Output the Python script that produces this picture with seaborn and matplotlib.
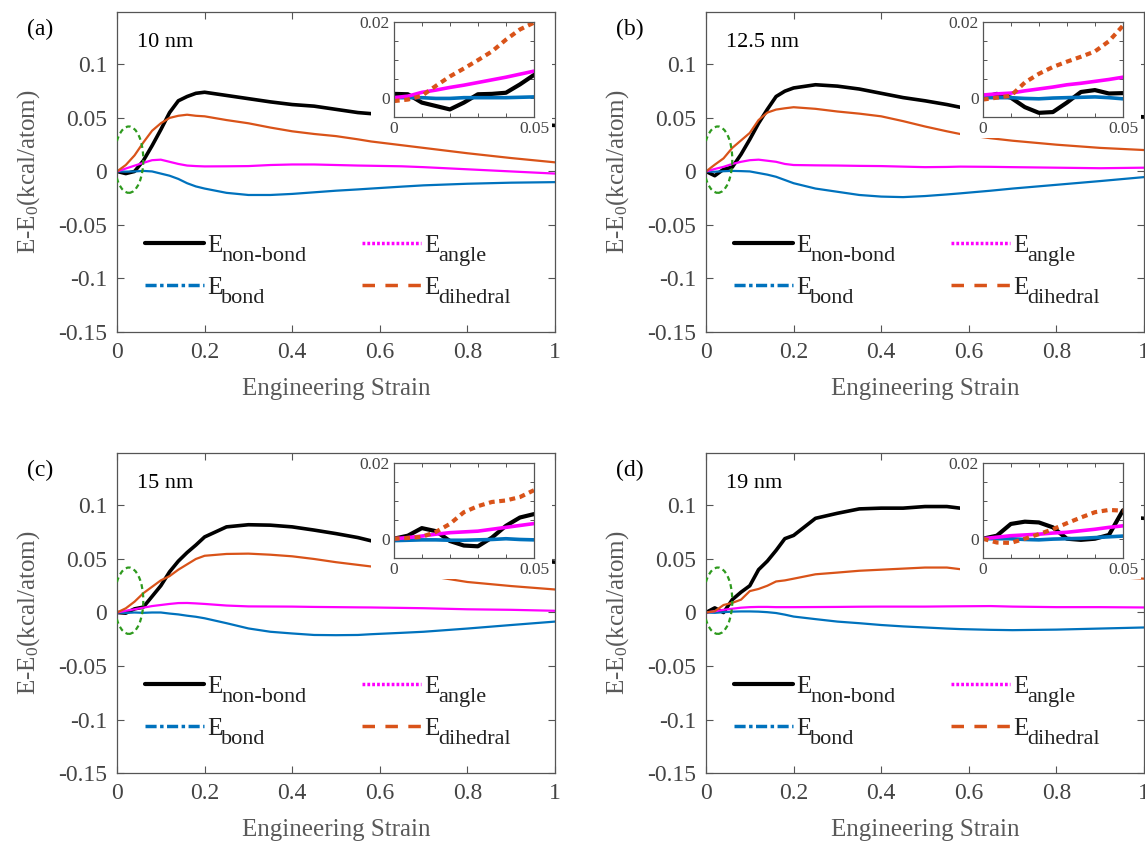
import matplotlib
matplotlib.use("Agg")
import matplotlib.pyplot as plt
import numpy as np
import pandas as pd
import seaborn as sns
from matplotlib.patches import Ellipse, Rectangle
from matplotlib.lines import Line2D

# ---------------- data ----------------
STRAIN = [0, 0.02, 0.04, 0.06, 0.08, 0.10, 0.12, 0.14, 0.16, 0.18, 0.20, 0.25,
          0.30, 0.35, 0.40, 0.45, 0.50, 0.55, 0.58, 0.65, 0.70, 0.80, 0.90, 1.00]

# (a) 10 nm
A_NONBOND = [0, -0.002, 0.0, 0.010, 0.024, 0.039, 0.055, 0.066, 0.070, 0.073, 0.074, 0.071,
             0.068, 0.065, 0.0625, 0.061, 0.058, 0.055, 0.054, 0.052, 0.050, 0.047, 0.045, 0.043]
A_BOND = [0, -0.0002, 0.0, 0.0005, 0.0, -0.002, -0.004, -0.007, -0.011, -0.014, -0.016, -0.020,
          -0.022, -0.022, -0.021, -0.0195, -0.018, -0.0168, -0.016, -0.0142, -0.013, -0.0115, -0.0105, -0.010]
A_ANGLE = [0, 0.0027, 0.0054, 0.008, 0.0105, 0.011, 0.009, 0.007, 0.0055, 0.005, 0.0047, 0.0048,
           0.005, 0.006, 0.0065, 0.0065, 0.006, 0.0055, 0.0053, 0.0048, 0.004, 0.002, 0.0, -0.002]
A_DIHEDRAL = [0, 0.006, 0.015, 0.027, 0.038, 0.045, 0.050, 0.052, 0.053, 0.052, 0.0515, 0.048,
              0.045, 0.041, 0.0375, 0.035, 0.033, 0.030, 0.028, 0.0245, 0.022, 0.017, 0.0125, 0.0085]

# (b) 12.5 nm
B_NONBOND = [0, -0.004, 0.002, 0.004, 0.016, 0.030, 0.045, 0.058, 0.070, 0.075, 0.078, 0.081,
             0.0797, 0.077, 0.073, 0.069, 0.066, 0.0625, 0.060, 0.058, 0.057, 0.055, 0.053, 0.051]
B_BOND = [0, -0.0003, 0.0002, 0.0005, 0.0003, 0.0, -0.0015, -0.003, -0.005, -0.008, -0.011, -0.016,
          -0.019, -0.022, -0.0235, -0.024, -0.023, -0.0215, -0.0205, -0.018, -0.016, -0.0125, -0.009, -0.0053]
B_ANGLE = [0, 0.0023, 0.0043, 0.007, 0.009, 0.0105, 0.011, 0.010, 0.009, 0.007, 0.006, 0.0057,
           0.0055, 0.0052, 0.005, 0.0045, 0.004, 0.0042, 0.0045, 0.0043, 0.004, 0.0035, 0.003, 0.0035]
B_DIHEDRAL = [0, 0.0063, 0.0122, 0.022, 0.029, 0.036, 0.048, 0.055, 0.0578, 0.059, 0.060, 0.0585,
              0.056, 0.054, 0.0515, 0.047, 0.042, 0.0375, 0.035, 0.031, 0.0287, 0.025, 0.022, 0.020]

# (c) 15 nm
C_NONBOND = [0, -0.0006, 0.0034, 0.005, 0.015, 0.025, 0.038, 0.048, 0.056, 0.063, 0.0706, 0.080,
             0.082, 0.0816, 0.080, 0.077, 0.0737, 0.070, 0.067, 0.063, 0.060, 0.055, 0.051, 0.047]
C_BOND = [0, -0.0004, 0.0, -0.0003, 0.0, 0.0, -0.001, -0.0018, -0.003, -0.004, -0.0054, -0.010,
          -0.0149, -0.018, -0.0196, -0.021, -0.0212, -0.021, -0.0203, -0.019, -0.018, -0.015, -0.0117, -0.0085]
C_ANGLE = [0, 0.0016, 0.003, 0.0045, 0.006, 0.007, 0.008, 0.0088, 0.0089, 0.0085, 0.008, 0.0065,
           0.0057, 0.0056, 0.0055, 0.0052, 0.005, 0.0048, 0.0047, 0.0043, 0.004, 0.003, 0.0025, 0.0016]
C_DIHEDRAL = [0, 0.0039, 0.0101, 0.018, 0.024, 0.030, 0.034, 0.040, 0.045, 0.050, 0.053, 0.0547,
              0.055, 0.054, 0.0525, 0.050, 0.047, 0.0445, 0.043, 0.039, 0.035, 0.0285, 0.0247, 0.0215]

# (d) 19 nm
D_NONBOND = [0, 0.0043, 0.0, 0.012, 0.019, 0.025, 0.040, 0.048, 0.058, 0.069, 0.072, 0.088,
             0.0927, 0.0968, 0.0975, 0.0975, 0.099, 0.099, 0.0975, 0.096, 0.095, 0.093, 0.091, 0.088]
D_BOND = [0, -0.0003, 0.0003, 0.0008, 0.001, 0.001, 0.0008, 0.0003, -0.0005, -0.002, -0.0038, -0.0062,
          -0.0085, -0.010, -0.0117, -0.013, -0.014, -0.015, -0.0155, -0.0162, -0.0165, -0.016, -0.015, -0.014]
D_ANGLE = [0, 0.0012, 0.0025, 0.0035, 0.0045, 0.005, 0.0052, 0.0052, 0.005, 0.005, 0.005, 0.0051,
           0.0052, 0.0054, 0.0055, 0.0055, 0.0055, 0.0057, 0.0058, 0.006, 0.0055, 0.005, 0.005, 0.0047]
D_DIHEDRAL = [0, 0.0012, 0.007, 0.009, 0.012, 0.020, 0.022, 0.025, 0.029, 0.030, 0.0316, 0.0357,
              0.0373, 0.039, 0.040, 0.041, 0.042, 0.042, 0.0405, 0.039, 0.038, 0.036, 0.034, 0.0316]

# insets: strain 0 .. 0.05
INSET_STRAIN = [0, 0.005, 0.01, 0.015, 0.02, 0.025, 0.03, 0.035, 0.04, 0.045, 0.05]

AI_NONBOND = [0.001, 0.0009, -0.0013, -0.0022, -0.0031, -0.0013, 0.0009, 0.001, 0.0013, 0.0035, 0.006]
AI_BOND = [0.0, 0.0, 0.0, -0.0002, -0.0002, 0.0, 0.0, 0.0, 0.0, 0.0001, 0.0002]
AI_ANGLE = [0.0, 0.0004, 0.0014, 0.002, 0.0027, 0.0033, 0.004, 0.0047, 0.0054, 0.0062, 0.007]
AI_DIHEDRAL = [-0.0009, -0.0005, 0.0005, 0.0031, 0.0056, 0.0077, 0.0099, 0.0122, 0.0153, 0.018, 0.0198]

BI_NONBOND = [0.0, 0.001, 0.0, -0.0025, -0.004, -0.0038, -0.0013, 0.0015, 0.002, 0.0011, 0.0012]
BI_BOND = [0.0, 0.0, 0.0, -0.0002, -0.0003, -0.0001, 0.0, 0.0001, 0.0002, 0.0, -0.0003]
BI_ANGLE = [0.0007, 0.001, 0.0012, 0.0018, 0.0023, 0.0028, 0.0034, 0.0038, 0.0043, 0.0048, 0.0054]
BI_DIHEDRAL = [-0.0005, 0.0, 0.0005, 0.004, 0.0063, 0.0081, 0.0095, 0.0108, 0.0122, 0.0149, 0.019]

CI_NONBOND = [0.0, 0.0008, 0.0028, 0.002, -0.0006, -0.0018, -0.002, 0.0003, 0.0034, 0.0056, 0.0065]
CI_BOND = [-0.0005, -0.0004, -0.0003, -0.0003, -0.0004, -0.0004, -0.0003, -0.0002, 0.0, -0.0002, -0.0003]
CI_ANGLE = [0.0, 0.0003, 0.0007, 0.0012, 0.0016, 0.0018, 0.002, 0.0025, 0.003, 0.0035, 0.004]
CI_DIHEDRAL = [0.0, 0.0002, 0.0005, 0.0018, 0.0039, 0.007, 0.0086, 0.0097, 0.0101, 0.011, 0.0128]

DI_NONBOND = [0.0, 0.0008, 0.0039, 0.0045, 0.0043, 0.003, 0.0, -0.0003, 0.0, 0.001, 0.0075]
DI_BOND = [0.0, 0.0, 0.0, -0.0002, -0.0003, -0.0001, 0.0, 0.0001, 0.0003, 0.0005, 0.0007]
DI_ANGLE = [0.0, 0.0004, 0.0008, 0.001, 0.0012, 0.0015, 0.0017, 0.0021, 0.0025, 0.003, 0.0034]
DI_DIHEDRAL = [0.0, -0.001, -0.0011, 0.0, 0.0012, 0.0025, 0.0041, 0.0056, 0.007, 0.0076, 0.0074]

PANEL_TAGS = ["(a)", "(b)", "(c)", "(d)"]
SIZES = ["10 nm", "12.5 nm", "15 nm", "19 nm"]
SUBSCRIPTS = ["non-bond", "bond", "angle", "dihedral"]
X_TICKS = [0, 0.2, 0.4, 0.6, 0.8, 1]
X_TICKLABELS = ["0", "0.2", "0.4", "0.6", "0.8", "1"]
Y_TICKS = [-0.15, -0.1, -0.05, 0, 0.05, 0.1]
Y_TICKLABELS = ["-0.15", "-0.1", "-0.05", "0", "0.05", "0.1"]

MAIN = [
    [A_NONBOND, A_BOND, A_ANGLE, A_DIHEDRAL],
    [B_NONBOND, B_BOND, B_ANGLE, B_DIHEDRAL],
    [C_NONBOND, C_BOND, C_ANGLE, C_DIHEDRAL],
    [D_NONBOND, D_BOND, D_ANGLE, D_DIHEDRAL],
]
INSET = [
    [AI_NONBOND, AI_BOND, AI_ANGLE, AI_DIHEDRAL],
    [BI_NONBOND, BI_BOND, BI_ANGLE, BI_DIHEDRAL],
    [CI_NONBOND, CI_BOND, CI_ANGLE, CI_DIHEDRAL],
    [DI_NONBOND, DI_BOND, DI_ANGLE, DI_DIHEDRAL],
]

# ---------------- style ----------------
sns.set_theme(style="ticks")
plt.rcParams["font.family"] = ["Liberation Serif", "DejaVu Serif"]
plt.rcParams["mathtext.fontset"] = "custom"
plt.rcParams["mathtext.rm"] = "Liberation Serif"
plt.rcParams["mathtext.it"] = "Liberation Serif:italic"
plt.rcParams["mathtext.bf"] = "Liberation Serif:bold"
plt.rcParams["axes.unicode_minus"] = False

BLACK = "#000000"
BLUE = "#0072BD"
MAGENTA = "#FF00FF"
ORANGE = "#D95319"
GREEN = "#2E9A1E"
GRAY = "#555555"
TICKGRAY = "#444444"

COLORS = [BLACK, BLUE, MAGENTA, ORANGE]
MAIN_LW = [2.6, 1.6, 1.6, 1.6]
INSET_LW = [3.0, 2.6, 2.6, 3.0]
INSET_LS = ["-", "-", "-", (0, (1.4, 1.1))]

fig = plt.figure(figsize=(11.45, 8.43), dpi=100)
fig.patch.set_facecolor("white")
positions = [
    [0.1022, 0.6062, 0.3825, 0.3796],
    [0.6166, 0.6062, 0.3825, 0.3796],
    [0.1022, 0.0830, 0.3825, 0.3796],
    [0.6166, 0.0830, 0.3825, 0.3796],
]

for p in range(4):
    ax = fig.add_axes(positions[p])
    ax.set_facecolor("white")
    for k in range(4):
        df = pd.DataFrame({"strain": STRAIN, "energy": MAIN[p][k]})
        sns.lineplot(data=df, x="strain", y="energy", ax=ax, color=COLORS[k],
                     linewidth=MAIN_LW[k], estimator=None, sort=False, zorder=2)
    ax.set_xlim(0, 1)
    ax.set_ylim(-0.15, 0.149)
    ax.set_xticks(X_TICKS)
    ax.set_xticklabels(X_TICKLABELS)
    ax.set_yticks(Y_TICKS)
    ax.set_yticklabels(Y_TICKLABELS)
    ax.tick_params(direction="in", top=True, right=True, length=5, width=0.8,
                   color=GRAY, labelcolor=TICKGRAY, labelsize=17, pad=7)
    for s in ax.spines.values():
        s.set_color(GRAY)
        s.set_linewidth(0.9)
        s.set_visible(True)
    ax.set_xlabel("Engineering Strain", fontsize=18, color="#595959")
    ax.set_ylabel("E-E$_0$(kcal/atom)", fontsize=18, color="#595959")
    ax.xaxis.set_label_coords(0.5, -0.145)
    ax.yaxis.set_label_coords(-0.172, 0.5)

    # white backing of the inset (hides the curves behind it)
    ax.add_patch(Rectangle((0.58, 0.031), 0.413, 0.2, facecolor="white",
                           edgecolor="none", zorder=2.2))

    # green dashed ellipse marking the zoomed region
    ax.add_patch(Ellipse((0.027, 0.011), 0.066, 0.062, fill=False, edgecolor=GREEN,
                         linestyle=(0, (2.2, 1.6)), linewidth=1.6, zorder=3))

    ax.text(-0.205, 0.945, PANEL_TAGS[p], transform=ax.transAxes, fontsize=17,
            color="black", ha="left", va="center")
    ax.text(0.046, 0.905, SIZES[p], transform=ax.transAxes, fontsize=16,
            color="black", ha="left", va="center")

    handles = [
        Line2D([], [], color=BLACK, lw=3.0, ls="-"),
        Line2D([], [], color=BLUE, lw=2.5, ls=(0, (3.2, 1.0, 1.0, 1.0))),
        Line2D([], [], color=MAGENTA, lw=2.5, ls=(0, (0.8, 0.6))),
        Line2D([], [], color=ORANGE, lw=2.5, ls=(0, (3.6, 3.0))),
    ]
    leg = ax.legend(handles, ["E", "E", "E", "E"], ncol=2, loc="upper left",
                    bbox_to_anchor=(0.064, 0.305), frameon=False, fontsize=18,
                    handlelength=2.35, handletextpad=0.12, columnspacing=5.6,
                    labelspacing=0.78, borderpad=0, borderaxespad=0)
    for t, sub in zip(leg.get_texts(), SUBSCRIPTS):
        t.set_color("#222222")
        ax.annotate(sub, xy=(1, 0), xycoords=t, xytext=(-0.5, -3.0),
                    textcoords="offset points", fontsize=16, color="#222222",
                    ha="left", va="baseline", annotation_clip=False, zorder=8)

    # inset
    ins = ax.inset_axes([0.632, 0.673, 0.32, 0.296])
    ins.set_facecolor("white")
    for k in range(4):
        df = pd.DataFrame({"strain": INSET_STRAIN, "energy": INSET[p][k]})
        sns.lineplot(data=df, x="strain", y="energy", ax=ins, color=COLORS[k],
                     linewidth=INSET_LW[k], linestyle=INSET_LS[k],
                     estimator=None, sort=False)
    ins.set_xlim(0, 0.05)
    ins.set_ylim(-0.005, 0.02)
    ins.set_xticks([0, 0.01, 0.02, 0.03, 0.04, 0.05])
    ins.set_xticklabels(["0", "", "", "", "", "0.05"])
    ins.set_yticks([0, 0.005, 0.01, 0.015, 0.02])
    ins.set_yticklabels(["0", "", "", "", "0.02"])
    ins.tick_params(direction="in", top=True, right=True, length=3, width=0.7,
                    color=GRAY, labelcolor=TICKGRAY, labelsize=12.5, pad=3)
    ins.set_xlabel("")
    ins.set_ylabel("")
    for s in ins.spines.values():
        s.set_color(GRAY)
        s.set_linewidth(0.9)

fig.savefig("out.png", dpi=100, facecolor="white")
